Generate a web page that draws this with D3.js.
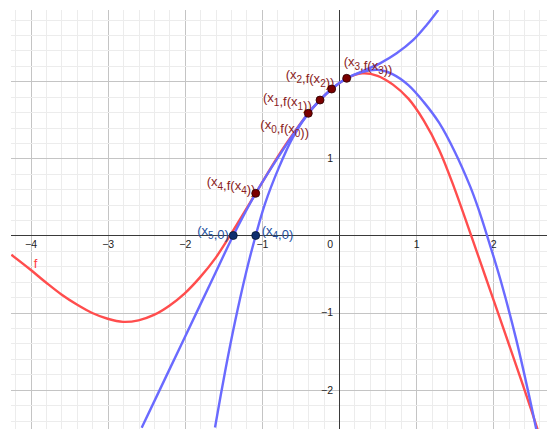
<!DOCTYPE html>
<html>
<head>
<meta charset="utf-8">
<script src="https://cdn.jsdelivr.net/npm/d3@7"></script>
<style>
  body { margin: 0; background: #fff; }
  svg { display: block; font-family: "Liberation Sans", Arial, sans-serif; }
</style>
</head>
<body>
<div id="chart"></div>
<script>
// curve f (red)
const fX = [-4.25, -4.0, -3.8, -3.6, -3.4, -3.2, -3.0, -2.8, -2.6, -2.4, -2.2, -2.0, -1.8, -1.6, -1.4,
  -1.08, -0.75, -0.398, -0.246, -0.095, 0.10, 0.30, 0.50, 0.70, 0.90, 1.10, 1.30, 1.50, 1.70, 1.90,
  2.10, 2.30, 2.50, 2.58];
const fY = [-0.25, -0.445, -0.61, -0.765, -0.895, -1.005, -1.08, -1.12, -1.10, -1.03, -0.91, -0.75, -0.54, -0.29, 0.02,
  0.547, 1.09, 1.585, 1.757, 1.90, 2.039, 2.103, 2.072, 1.957, 1.775, 1.49, 1.11, 0.605, 0.04, -0.535,
  -1.11, -1.69, -2.28, -2.53];

// second interpolating curve (blue, root x5)
const blueAX = [-2.559, -2.2, -1.8, -1.6, -1.371, -1.08, -0.75, -0.398, -0.246, -0.095, 0.10, 0.30,
  0.50, 0.70, 0.90, 1.10, 1.30, 1.50, 1.70, 1.80, 1.92, 2.10, 2.30, 2.50, 2.56];
const blueAY = [-2.495, -1.74, -0.90, -0.48, 0.0, 0.547, 1.075, 1.585, 1.757, 1.90, 2.039, 2.12,
  2.15, 2.09, 1.95, 1.73, 1.46, 1.09, 0.64, 0.37, 0.0, -0.594, -1.354, -2.234, -2.52];

// first interpolating curve (blue, root x4)
const blueBX = [-1.608, -1.48, -1.35, -1.2, -1.08, -0.96, -0.78, -0.6, -0.398, -0.246, -0.095, 0.10,
  0.315, 0.532, 0.748, 0.964, 1.137, 1.288];
const blueBY = [-2.49, -1.78, -1.126, -0.46, 0.0, 0.41, 0.88, 1.27, 1.585, 1.757, 1.90, 2.039,
  2.137, 2.233, 2.363, 2.536, 2.730, 2.925];

// iterates x0..x4 on f, and roots x4, x5 on the axis
const iterX = [-0.398, -0.246, -0.095, 0.100, -1.08];
const iterY = [1.585, 1.757, 1.900, 2.039, 0.547];
const rootX = [-1.08, -1.371];
const rootIdx = [4, 5];

const xTicks = [-4, -3, -2, -1, 1, 2];
const yTicks = [-2, -1, 1];

const width = 547, height = 429;
const plotLeft = 11, plotTop = 10;

const svg = d3.select("#chart").append("svg")
  .attr("width", width)
  .attr("height", height);

const xScale = d3.scaleLinear().domain([-4.254, 2.698]).range([plotLeft, width]);
const yScale = d3.scaleLinear().domain([2.925, -2.510]).range([plotTop, height]);
const snap = v => Math.round(v) + 0.5;

svg.append("clipPath").attr("id", "plot")
  .append("rect")
  .attr("x", plotLeft).attr("y", plotTop)
  .attr("width", width - plotLeft).attr("height", height - plotTop);

// grid
const minorX = d3.range(-21, 14).map(i => i / 5);
const minorY = d3.range(-12, 15).map(i => i / 5);
const grid = svg.append("g");
grid.selectAll(".mx").data(minorX).enter().append("line")
  .attr("x1", d => snap(xScale(d))).attr("x2", d => snap(xScale(d)))
  .attr("y1", plotTop).attr("y2", height)
  .attr("stroke", d => Math.abs(d - Math.round(d)) < 1e-6 ? "#c4c4c4" : "#ececec");
grid.selectAll(".my").data(minorY).enter().append("line")
  .attr("y1", d => snap(yScale(d))).attr("y2", d => snap(yScale(d)))
  .attr("x1", plotLeft).attr("x2", width)
  .attr("stroke", d => Math.abs(d - Math.round(d)) < 1e-6 ? "#c4c4c4" : "#ececec");

// axis lines
svg.append("line")
  .attr("x1", plotLeft).attr("x2", width)
  .attr("y1", snap(yScale(0))).attr("y2", snap(yScale(0)))
  .attr("stroke", "#3a3a3a");
svg.append("line")
  .attr("x1", snap(xScale(0))).attr("x2", snap(xScale(0)))
  .attr("y1", plotTop).attr("y2", height)
  .attr("stroke", "#3a3a3a");

// tick labels
const fmt = d3.format("d");
const xAxis = svg.append("g")
  .attr("transform", `translate(0, ${yScale(0)})`)
  .call(d3.axisBottom(xScale).tickValues(xTicks).tickFormat(fmt).tickSize(0).tickPadding(5.5));
const yAxis = svg.append("g")
  .attr("transform", `translate(${xScale(0)}, 0)`)
  .call(d3.axisLeft(yScale).tickValues(yTicks).tickFormat(fmt).tickSize(0).tickPadding(6));
[xAxis, yAxis].forEach(g => {
  g.select(".domain").remove();
  g.selectAll("text").attr("font-size", 10.5).attr("fill", "#222")
    .attr("font-family", "'Liberation Sans', Arial, sans-serif");
});
svg.append("text")
  .attr("x", xScale(0) - 6).attr("y", yScale(0) + 12.5)
  .attr("text-anchor", "end").attr("font-size", 10.5).attr("fill", "#222")
  .text("0");

// curves
const line = d3.line()
  .x(d => xScale(d[0]))
  .y(d => yScale(d[1]))
  .curve(d3.curveCatmullRom.alpha(0.5));

const curves = svg.append("g").attr("clip-path", "url(#plot)");
curves.append("path")
  .attr("d", line(d3.zip(fX, fY)))
  .attr("fill", "none").attr("stroke", "#ff4d4d").attr("stroke-width", 2.4);
curves.append("path")
  .attr("d", line(d3.zip(blueAX, blueAY)))
  .attr("fill", "none").attr("stroke", "#6a6aff").attr("stroke-width", 2.4);
curves.append("path")
  .attr("d", line(d3.zip(blueBX, blueBY)))
  .attr("fill", "none").attr("stroke", "#6a6aff").attr("stroke-width", 2.4);

// label "f"
svg.append("text")
  .attr("x", xScale(-3.96)).attr("y", yScale(-0.42))
  .attr("font-size", 13).attr("fill", "#ff3b3b")
  .text("f");

// labels with subscripts
function subLabel(g, x, y, parts, color) {
  const t = g.append("text").attr("x", x).attr("y", y)
    .attr("font-size", 13).attr("fill", color);
  parts.forEach(p => {
    if (typeof p === "string") {
      t.append("tspan").text(p);
    } else {
      t.append("tspan").attr("font-size", 10).attr("dy", 4).text(p.sub);
      t.append("tspan").attr("dy", -4).text("");
    }
  });
  return t;
}

const iterOffsets = [[-48, 16], [-57, 2], [-46, -10], [-3, -12], [-49, -7]];
const rootOffsets = [[6, 0], [-36, 0]];

const labels = svg.append("g");
iterX.forEach((x, i) => {
  subLabel(labels, xScale(x) + iterOffsets[i][0], yScale(iterY[i]) + iterOffsets[i][1],
    ["(x", {sub: String(i)}, ",f(x", {sub: String(i)}, "))"], "#8a1c1c");
});
rootX.forEach((x, i) => {
  subLabel(labels, xScale(x) + rootOffsets[i][0], yScale(0) + rootOffsets[i][1],
    ["(x", {sub: String(rootIdx[i])}, ",0)"], "#2350a0");
});

// points
svg.append("g").selectAll("circle.iter")
  .data(d3.zip(iterX, iterY))
  .enter().append("circle")
  .attr("cx", d => xScale(d[0]))
  .attr("cy", d => yScale(d[1]))
  .attr("r", 4)
  .attr("fill", "#7a0000")
  .attr("stroke", "#2a0000").attr("stroke-width", 0.8);
svg.append("g").selectAll("circle.root")
  .data(rootX)
  .enter().append("circle")
  .attr("cx", d => xScale(d))
  .attr("cy", yScale(0))
  .attr("r", 4)
  .attr("fill", "#0f2f70")
  .attr("stroke", "#06142e").attr("stroke-width", 0.8);
</script>
</body>
</html>
